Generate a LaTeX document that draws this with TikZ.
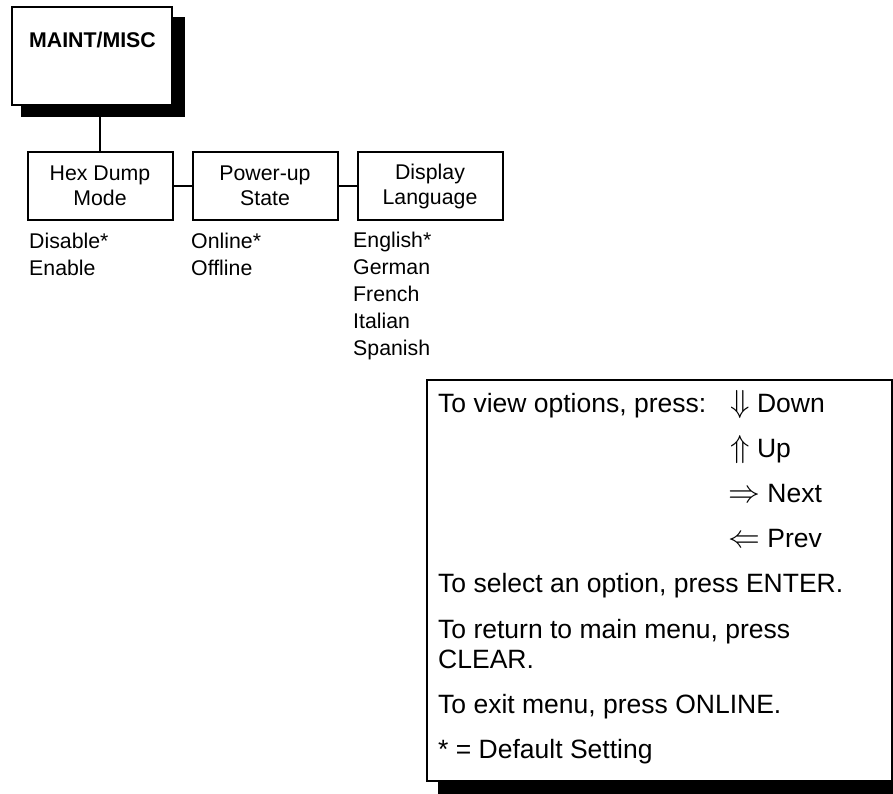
\documentclass[tikz,border=0pt]{standalone}
\usepackage{fontspec}
\setmainfont{Liberation Sans}
\usetikzlibrary{positioning,backgrounds}

\newcommand{\keyarrow}[1]{\scalebox{1.28}{$#1$}}

\begin{document}
\begin{tikzpicture}[
  x=1pt,y=-1pt,
  font=\fontsize{21.3}{25}\selectfont,
  node distance=18pt,
  topbox/.style={draw,line width=2pt,fill=white,minimum width=160pt,minimum height=98pt,inner sep=0pt},
  menu/.style={draw,line width=2pt,fill=white,minimum width=145pt,minimum height=68pt,inner sep=0pt,align=center},
  opts/.style={anchor=base west,inner sep=0pt,align=left,font=\fontsize{21.3}{26.8}\selectfont},
  helpbox/.style={draw,line width=2pt,fill=white,minimum width=465pt,minimum height=401pt,inner sep=0pt,anchor=north west},
  help/.style={anchor=base west,inner sep=0pt,align=left,font=\fontsize{26.5}{30}\selectfont},
  link/.style={line width=2pt}
]
\useasboundingbox (0,0) rectangle (893,793);

% main menu box
\node[topbox] (maint) at (92,56) {};
\node[anchor=base west,inner sep=0pt,font=\fontsize{21.3}{25}\bfseries] (title) at (29,47) {MAINT/MISC};

% submenus
\node[menu] (hex) at (100,186) {Hex Dump\\Mode};
\node[menu,right=of hex] (power) {Power-up\\State};
\node[menu,right=of power] (lang) {Display\\Language};

% choices (base = last line)
\node[opts] (hexopt) at (29,275) {Disable*\\Enable};
\node[opts] (poweropt) at (191,275) {Online*\\Offline};
\node[opts] (langopt) at (353,355) {English*\\German\\French\\Italian\\Spanish};

\draw[link] (maint.south -| hex.north) ++(0,11) coordinate (drop) -- (hex.north);
\draw[link] (hex) -- (power);
\draw[link] (power) -- (lang);

% key box
\node[helpbox] (key) at (426,379) {};
\node[help] (view) at (438,412) {To view options, press:};
\node[help] (down) at (730,412) {\keyarrow{\Downarrow} Down};
\node[help] (up) at (730,457) {\keyarrow{\Uparrow} Up};
\node[help] (next) at (728,502) {\keyarrow{\Rightarrow} Next};
\node[help] (prev) at (728,547) {\keyarrow{\Leftarrow} Prev};
\node[help] (select) at (438,592) {To select an option, press ENTER.};
\node[help] (return) at (438,668) {To return to main menu, press\\CLEAR.};
\node[help] (exit) at (438,713) {To exit menu, press ONLINE.};
\node[help] (default) at (438,758) {* = Default Setting};

\begin{scope}[on background layer]
  \fill ([shift={(10,11)}]maint.north west) rectangle ([shift={(12,11)}]maint.south east);
  \fill ([shift={(12,12)}]key.north west) rectangle ([shift={(12,12)}]key.south east);
\end{scope}
\end{tikzpicture}
\end{document}
